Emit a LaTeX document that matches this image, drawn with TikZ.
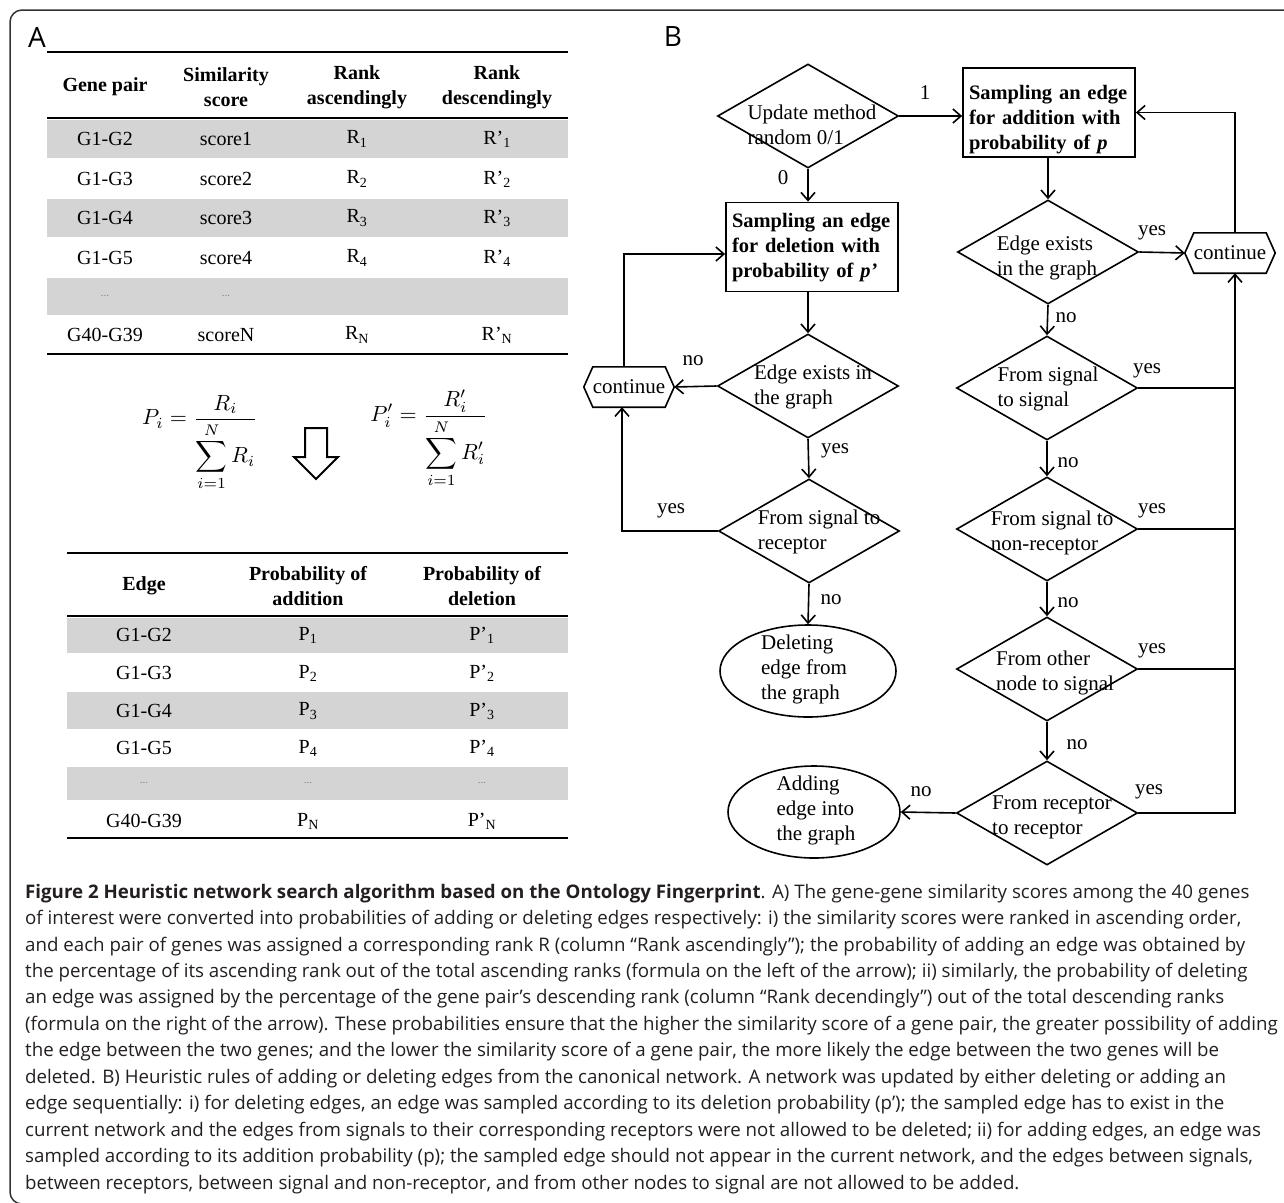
\documentclass[tikz,border=0pt]{standalone}
\usepackage{graphicx}
\usepackage{fontspec}
\setmainfont{Liberation Serif}
\newfontfamily\capfont{Open Sans}
\usetikzlibrary{shapes.geometric,arrows.meta}
\definecolor{rowgray}{RGB}{212,212,212}
\definecolor{framec}{RGB}{50,50,50}
\definecolor{captxt}{RGB}{35,31,32}
\begin{document}
\begin{tikzpicture}[x=1pt,y=-1pt,
  every node/.style={inner sep=0pt},
  tab/.style={font=\fontsize{20}{24}\selectfont},
  tabh/.style={font=\bfseries\fontsize{20}{25}\selectfont, align=center},
  dots/.style={font=\fontsize{11}{12}\selectfont, text=gray},
  rulel/.style={line width=2pt},
  fc/.style={font=\fontsize{21}{25}\selectfont, align=left},
  lab/.style={font=\fontsize{21}{25}\selectfont},
  fline/.style={line width=1.6pt},
  arr/.style={line width=1.6pt, -{Straight Barb[length=8pt,width=14pt]}},
  dia/.style={draw, diamond, minimum width=181pt, minimum height=104pt, line width=1.6pt},
  ell/.style={draw, ellipse, line width=1.6pt},
  boxn/.style={draw, rectangle, line width=1.8pt, minimum width=172pt, minimum height=89pt},
  boxt/.style={text width=160pt, align=left, font=\bfseries\fontsize{20.5}{25}\selectfont},
  hexn/.style={minimum width=90pt, minimum height=40pt, font=\fontsize{21}{25}\selectfont},
  capl/.style={anchor=base west, font=\capfont\fontsize{18.7}{22}\selectfont, text=captxt},
  panel/.style={font=\capfont\fontsize{28}{30}\selectfont}
]
\useasboundingbox (0,0) rectangle (1284,1202);
\begin{scope}
\clip (0,0) rectangle (1284,1202);
\draw[line width=1.5pt, framec, rounded corners=12pt] (10,10) rectangle (1320,1204);
\end{scope}

\node[panel] (pA) at (37,37) {A};
\node[panel] (pB) at (673,37) {B};

% ---------- Table 1 ----------
\fill[rowgray] (47,120) rectangle (568,158);
\fill[rowgray] (47,199) rectangle (568,237);
\fill[rowgray] (47,278) rectangle (568,315);
\draw[rulel] (47,52) -- (568,52);
\draw[rulel] (47,118) -- (568,118);
\draw[rulel] (47,354) -- (568,354);
\node[tabh] (h1) at (105,87) {Gene pair};
\node[tabh] (h2) at (226,87) {Similarity\\score};
\node[tabh] (h3) at (357,87) {Rank\\ascendingly};
\node[tabh] (h4) at (497,87) {Rank\\descendingly};
\foreach \y/\g/\s/\r [count=\k] in {139/G1-G2/score1/1, 179/G1-G3/score2/2, 218/G1-G4/score3/3, 258/G1-G5/score4/4, 335/G40-G39/scoreN/N}{
  \node[tab] (ta\k) at (105,\y) {\g};
  \node[tab] (tb\k) at (226,\y) {\s};
  \node[tab] (tc\k) at (357,\y) {R\textsubscript{\r}};
  \node[tab] (td\k) at (497,\y) {R’\textsubscript{\r}};
}
\node[dots] (tdots1) at (105,296) {...};
\node[dots] (tdots2) at (226,296) {...};

% ---------- Formulas ----------
\node (f1) at (200,443)
  {\scalebox{2.2}{$\displaystyle P_i = \frac{R_i}{\displaystyle\sum_{i=1}^{N} R_i}$}};
\node (f2) at (429,439)
  {\scalebox{2.2}{$\displaystyle P'_i = \frac{R'_i}{\displaystyle\sum_{i=1}^{N} R'_i}$}};
\draw[line width=2pt, line join=miter] (305,428) -- (327,428) -- (327,457) -- (338,457)
  -- (316,479) -- (294,457) -- (305,457) -- cycle;

% ---------- Table 2 ----------
\fill[rowgray] (67,618) rectangle (568,653);
\fill[rowgray] (67,692) rectangle (568,729);
\fill[rowgray] (67,767) rectangle (568,800);
\draw[rulel] (67,553) -- (568,553);
\draw[rulel] (67,616) -- (568,616);
\draw[rulel] (67,838) -- (568,838);
\node[tabh] (g1) at (144,586) {Edge};
\node[tabh] (g2) at (308,586) {Probability of\\addition};
\node[tabh] (g3) at (482,586) {Probability of\\deletion};
\foreach \y/\g/\r [count=\k] in {635/G1-G2/1, 673/G1-G3/2, 711/G1-G4/3, 748/G1-G5/4, 821/G40-G39/N}{
  \node[tab] (ua\k) at (144,\y) {\g};
  \node[tab] (ub\k) at (308,\y) {P\textsubscript{\r}};
  \node[tab] (uc\k) at (482,\y) {P’\textsubscript{\r}};
}
\node[dots] (udots1) at (144,783) {...};
\node[dots] (udots2) at (308,783) {...};
\node[dots] (udots3) at (482,783) {...};

% ---------- Flowchart ----------
\node[dia] (d0) at (808,116) {};
\node[fc] (d0t) at (812,125) {Update method\\random 0/1};
\node[boxn] (ba) at (1049,112.5) {};
\node[boxt] (bat) at (1049,120) {Sampling an edge\\for addition with\\probability of \textit{p}};
\node[boxn] (bd) at (812,247) {};
\node[boxt] (bdt) at (812,248) {Sampling an edge\\for deletion with\\probability of \textit{p’}};

\node[dia] (d1) at (808,386) {};
\node[fc] (d1t) at (813,387) {Edge exists in\\the graph};
\node[hexn] (c1) at (629,387) {continue};
\draw[fline] (c1.west) -- ([xshift=9pt]c1.north west) -- ([xshift=-9pt]c1.north east) -- (c1.east)
  -- ([xshift=-9pt]c1.south east) -- ([xshift=9pt]c1.south west) -- cycle;
\node[dia] (d2) at (809,531) {};
\node[fc] (d2t) at (819,532) {From signal to\\receptor};
\node[ell, minimum width=176pt, minimum height=92pt] (e1) at (808,671) {};
\node[fc] (e1t) at (804,669) {Deleting\\edge from\\the graph};

\node[dia] (d3) at (1048,252) {};
\node[fc] (d3t) at (1047,258) {Edge exists\\in the graph};
\node[hexn] (c2) at (1230,253) {continue};
\draw[fline] (c2.west) -- ([xshift=9pt]c2.north west) -- ([xshift=-9pt]c2.north east) -- (c2.east)
  -- ([xshift=-9pt]c2.south east) -- ([xshift=9pt]c2.south west) -- cycle;
\node[dia] (d4) at (1047,388) {};
\node[fc] (d4t) at (1048,389) {From signal\\to signal};
\node[dia] (d5) at (1047,529) {};
\node[fc] (d5t) at (1052,533) {From signal to\\non-receptor};
\node[dia] (d6) at (1047,669) {};
\node[fc] (d6t) at (1055,673) {From other\\node to signal};
\node[dia] (d7) at (1047,813) {};
\node[fc] (d7t) at (1052,817) {From receptor\\to receptor};
\node[ell, minimum width=172pt, minimum height=92pt] (e2) at (814,812) {};
\node[fc] (e2t) at (816,810) {Adding\\edge into\\the graph};
\coordinate (rail) at (1235,253);

% connectors
\draw[arr] (d0.east) -- (d0.east -| ba.west);
\draw[arr] (d0.south) -- (d0.south |- bd.north);
\draw[arr] (d1.north |- bd.south) -- (d1.north);
\draw[arr] (d1.west) -- (c1.east);
\draw[arr] ([xshift=-5pt]c1.north) |- ([yshift=-7pt]bd.west);
\draw[arr] (d1.south) -- (d2.north);
\draw[arr] (d2.west) -| ([xshift=-7pt]c1.south);
\draw[arr] (d2.south) -- (e1.north);
\draw[arr] (d3.north |- ba.south) -- (d3.north);
\draw[arr] (d3.east) -- (c2.west);
\draw[arr] ([xshift=5pt]c2.north) |- (ba.east);
\draw[arr] (d3.south) -- (d4.north);
\draw[arr] (d4.south) -- (d5.north);
\draw[arr] (d5.south) -- (d6.north);
\draw[arr] (d6.south) -- (d7.north);
\draw[arr] (d7.west) -- (e2.east);
\draw[arr] (d7.east) -| ([xshift=5pt]c2.south);
\draw[fline] (d4.east) -- (d4.east -| rail);
\draw[fline] (d5.east) -- (d5.east -| rail);
\draw[fline] (d6.east) -- (d6.east -| rail);

% labels
\node[lab] (l1) at (925,93) {1};
\node[lab] (l0) at (783,178) {0};
\node[lab] (l2) at (693,361) {no};
\node[lab] (l3) at (835,451) {yes};
\node[lab] (l4) at (671,511) {yes};
\node[lab] (l5) at (831,600) {no};
\node[lab] (l6) at (1152,233) {yes};
\node[lab] (l7) at (1066,318) {no};
\node[lab] (l8) at (1147,371) {yes};
\node[lab] (l9) at (1068,463) {no};
\node[lab] (l10) at (1152,511) {yes};
\node[lab] (l11) at (1068,603) {no};
\node[lab] (l12) at (1152,651) {yes};
\node[lab] (l13) at (1077,745) {no};
\node[lab] (l14) at (1149,792) {yes};
\node[lab] (l15) at (921,792) {no};

% ---------- Caption ----------
\node[capl] (cap1) at (25,898) {\textbf{Figure 2 Heuristic network search algorithm based on the Ontology Fingerprint}. A) The gene-gene similarity scores among the 40 genes};
\node[capl] (cap2) at (25,924.5) {of interest were converted into probabilities of adding or deleting edges respectively: i) the similarity scores were ranked in ascending order,};
\node[capl] (cap3) at (25,951) {and each pair of genes was assigned a corresponding rank R (column “Rank ascendingly”); the probability of adding an edge was obtained by};
\node[capl] (cap4) at (25,977.4) {the percentage of its ascending rank out of the total ascending ranks (formula on the left of the arrow); ii) similarly, the probability of deleting};
\node[capl] (cap5) at (25,1003.9) {an edge was assigned by the percentage of the gene pair’s descending rank (column “Rank decendingly”) out of the total descending ranks};
\node[capl] (cap6) at (25,1030.3) {(formula on the right of the arrow). These probabilities ensure that the higher the similarity score of a gene pair, the greater possibility of adding};
\node[capl] (cap7) at (25,1056.8) {the edge between the two genes; and the lower the similarity score of a gene pair, the more likely the edge between the two genes will be};
\node[capl] (cap8) at (25,1083.2) {deleted. B) Heuristic rules of adding or deleting edges from the canonical network. A network was updated by either deleting or adding an};
\node[capl] (cap9) at (25,1109.7) {edge sequentially: i) for deleting edges, an edge was sampled according to its deletion probability (p’); the sampled edge has to exist in the};
\node[capl] (cap10) at (25,1136.1) {current network and the edges from signals to their corresponding receptors were not allowed to be deleted; ii) for adding edges, an edge was};
\node[capl] (cap11) at (25,1162.6) {sampled according to its addition probability (p); the sampled edge should not appear in the current network, and the edges between signals,};
\node[capl] (cap12) at (25,1189) {between receptors, between signal and non-receptor, and from other nodes to signal are not allowed to be added.};
\end{tikzpicture}
\end{document}
